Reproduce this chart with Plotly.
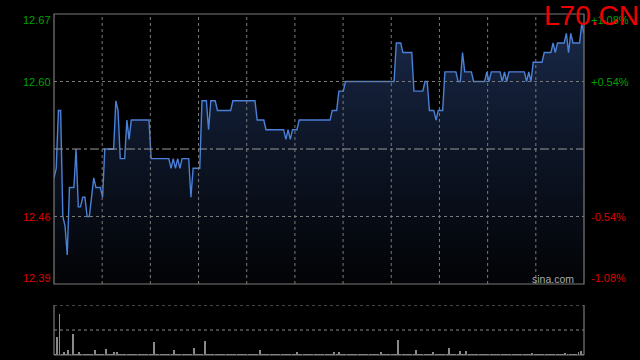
import plotly.graph_objects as go

# ---- data ----
minutes = list(range(241))
prices = [
    12.50, 12.51, 12.57, 12.57, 12.46, 12.45, 12.42, 12.49, 12.49, 12.49,
    12.53, 12.47, 12.47, 12.48, 12.48, 12.46, 12.46, 12.48, 12.50, 12.49,
    12.49, 12.49, 12.48, 12.53, 12.53, 12.53, 12.53, 12.53, 12.58, 12.57,
    12.52, 12.52, 12.52, 12.56, 12.54, 12.56, 12.56, 12.56, 12.56, 12.56,
    12.56, 12.56, 12.56, 12.56, 12.52, 12.52, 12.52, 12.52, 12.52, 12.52,
    12.52, 12.52, 12.52, 12.51, 12.52, 12.51, 12.52, 12.51, 12.52, 12.52,
    12.52, 12.52, 12.48, 12.51, 12.51, 12.51, 12.51, 12.58, 12.58, 12.58,
    12.55, 12.58, 12.58, 12.58, 12.57, 12.57, 12.57, 12.57, 12.57, 12.57,
    12.57, 12.58, 12.58, 12.58, 12.58, 12.58, 12.58, 12.58, 12.58, 12.58,
    12.58, 12.58, 12.56, 12.56, 12.56, 12.56, 12.55, 12.55, 12.55, 12.55,
    12.55, 12.55, 12.55, 12.55, 12.55, 12.54, 12.55, 12.54, 12.55, 12.55,
    12.55, 12.56, 12.56, 12.56, 12.56, 12.56, 12.56, 12.56, 12.56, 12.56,
    12.56, 12.56, 12.56, 12.56, 12.56, 12.56, 12.57, 12.57, 12.57, 12.59,
    12.59, 12.59, 12.60, 12.60, 12.60, 12.60, 12.60, 12.60, 12.60, 12.60,
    12.60, 12.60, 12.60, 12.60, 12.60, 12.60, 12.60, 12.60, 12.60, 12.60,
    12.60, 12.60, 12.60, 12.60, 12.60, 12.64, 12.64, 12.64, 12.63, 12.63,
    12.63, 12.63, 12.63, 12.59, 12.59, 12.59, 12.59, 12.59, 12.60, 12.60,
    12.57, 12.57, 12.57, 12.56, 12.57, 12.57, 12.57, 12.61, 12.61, 12.61,
    12.61, 12.61, 12.61, 12.60, 12.60, 12.63, 12.61, 12.61, 12.61, 12.61,
    12.60, 12.60, 12.60, 12.60, 12.60, 12.60, 12.61, 12.60, 12.61, 12.61,
    12.61, 12.61, 12.61, 12.60, 12.61, 12.60, 12.61, 12.61, 12.61, 12.61,
    12.61, 12.61, 12.61, 12.61, 12.60, 12.61, 12.60, 12.62, 12.62, 12.62,
    12.62, 12.62, 12.63, 12.63, 12.63, 12.63, 12.64, 12.63, 12.64, 12.64,
    12.64, 12.64, 12.65, 12.63, 12.65, 12.64, 12.64, 12.64, 12.64, 12.66,
    12.65,
]
volumes = [
    1, 18, 41, 1, 3, 1, 5, 1, 21, 1, 1, 3, 1, 1, 1, 1, 1, 1, 5, 1,
    1, 1, 1, 6, 1, 1, 1, 3, 3, 1, 1, 1, 1, 1, 1, 1, 1, 1, 1, 1,
    1, 1, 1, 1, 1, 13, 1, 1, 1, 1, 1, 1, 1, 1, 5, 1, 1, 1, 1, 1,
    1, 1, 1, 7, 1, 1, 1, 1, 14, 1, 1, 1, 1, 1, 1, 1, 1, 1, 1, 1,
    1, 1, 1, 1, 1, 1, 1, 1, 1, 1, 1, 1, 1, 5, 1, 1, 1, 1, 1, 1,
    1, 1, 1, 1, 1, 1, 1, 1, 1, 1, 3, 1, 1, 1, 1, 1, 1, 1, 1, 1,
    1, 1, 1, 1, 1, 1, 1, 3, 1, 3, 1, 1, 1, 1, 1, 1, 1, 1, 1, 1,
    1, 1, 1, 1, 1, 1, 1, 1, 3, 1, 1, 1, 1, 1, 1, 1, 15, 1, 1, 1,
    1, 1, 1, 1, 5, 1, 1, 1, 1, 1, 1, 1, 3, 1, 1, 1, 1, 1, 1, 7,
    1, 1, 1, 1, 4, 1, 1, 4, 1, 1, 1, 1, 1, 1, 1, 1, 1, 1, 1, 1,
    1, 1, 1, 1, 1, 1, 1, 1, 1, 1, 1, 1, 1, 1, 1, 1, 1, 2, 1, 1,
    1, 1, 1, 1, 1, 1, 1, 1, 1, 1, 1, 1, 2, 1, 1, 1, 1, 1, 3, 4,
    1,
]
prev_close = 12.53
left_labels = ["12.67", "12.60", "12.46", "12.39"]
right_labels = ["+1.08%", "+0.54%", "-0.54%", "-1.08%"]
label_colors = ["#00a000", "#00a000", "#dd0000", "#dd0000"]
price_grid = [12.60, 12.46]
vol_grid = [25, 50]
title_text = "L70.CN"
watermark = "sina.com"

W, H = 640, 360
X0, X1 = 54, 584
PY0, PY1 = 14, 284
VY0, VY1 = 305, 355
YMIN, YMAX = 12.39, 12.67
XMAX = 240
VMAX = 50

fig = go.Figure()

fig.add_trace(go.Scatter(
    x=minutes, y=prices, mode="lines",
    line=dict(color="#4a80d8", width=1.4),
    fill="tozeroy",
    fillgradient=dict(type="vertical", start=YMIN, stop=YMAX,
                      colorscale=[[0, "#020305"], [0.5, "#0d1526"], [1, "#1a2a4a"]]),
    xaxis="x", yaxis="y", hoverinfo="skip",
))

fig.add_trace(go.Bar(
    x=minutes, y=volumes, width=0.45,
    marker=dict(color="#8a8a8a", line=dict(width=0)),
    xaxis="x2", yaxis="y2", hoverinfo="skip",
))

xd = [X0 / W, X1 / W]
grid_x = [XMAX * k / 11 for k in range(1, 11)]

fig.update_layout(
    width=W, height=H,
    margin=dict(l=0, r=0, t=0, b=0),
    paper_bgcolor="black", plot_bgcolor="black",
    showlegend=False,
    bargap=0,
    xaxis=dict(domain=xd, range=[0, XMAX], showticklabels=False, showgrid=False,
               zeroline=False, showline=False, fixedrange=True),
    yaxis=dict(domain=[1 - PY1 / H, 1 - PY0 / H], range=[YMIN, YMAX],
               showticklabels=False, showgrid=False,
               zeroline=False, showline=False, fixedrange=True),
    xaxis2=dict(domain=xd, range=[-0.5, XMAX + 0.5], showticklabels=False,
                showgrid=False, zeroline=False, showline=False, anchor="y2", fixedrange=True),
    yaxis2=dict(domain=[1 - VY1 / H, 1 - VY0 / H], range=[0, VMAX],
                showticklabels=False, showgrid=False,
                zeroline=False, showline=False, anchor="x2", fixedrange=True),
)

grid_line = dict(color="#7a7a7a", width=1, dash="dot")
shapes = []
for gx in grid_x:
    shapes.append(dict(type="line", xref="x", yref="paper", x0=gx, x1=gx,
                       y0=1 - PY1 / H, y1=1 - PY0 / H, line=grid_line, layer="above"))
for gy in price_grid:
    shapes.append(dict(type="line", xref="paper", yref="y", x0=X0 / W, x1=X1 / W,
                       y0=gy, y1=gy, line=grid_line, layer="above"))
for gv in vol_grid:
    shapes.append(dict(type="line", xref="paper", yref="y2", x0=X0 / W, x1=X1 / W,
                       y0=gv, y1=gv, line=dict(color="#8a8a8a", width=1.2, dash="dot"),
                       layer="above"))
shapes += [
    dict(type="line", xref="x", yref="y", x0=0, x1=XMAX, y0=prev_close, y1=prev_close,
         line=dict(color="#9a9a9a", width=1, dash="dashdot"), layer="above"),
    dict(type="rect", xref="paper", yref="paper",
         x0=X0 / W, x1=X1 / W, y0=1 - PY1 / H, y1=1 - PY0 / H,
         line=dict(color="#7a7a7a", width=1.2), layer="above"),
    dict(type="line", xref="paper", yref="paper", x0=X0 / W, x1=X0 / W,
         y0=1 - VY1 / H, y1=1 - VY0 / H, line=dict(color="#7a7a7a", width=1.2)),
    dict(type="line", xref="paper", yref="paper", x0=X1 / W, x1=X1 / W,
         y0=1 - VY1 / H, y1=1 - VY0 / H, line=dict(color="#7a7a7a", width=1.2)),
    dict(type="line", xref="paper", yref="paper", x0=X0 / W, x1=X1 / W,
         y0=1 - VY1 / H, y1=1 - VY1 / H, line=dict(color="#7a7a7a", width=1)),
]
fig.update_layout(shapes=shapes)

label_px = [20, 82, 216.5, 278]
ann = []
for txt, rtxt, col, py in zip(left_labels, right_labels, label_colors, label_px):
    ann.append(dict(text=txt, xref="paper", yref="paper", x=51.5 / W, y=1 - py / H,
                    xanchor="right", yanchor="middle", showarrow=False,
                    font=dict(family="Liberation Sans, Arial", size=11, color=col)))
    ann.append(dict(text=rtxt, xref="paper", yref="paper", x=589.5 / W, y=1 - py / H,
                    xanchor="left", yanchor="middle", showarrow=False,
                    font=dict(family="Liberation Sans, Arial", size=11, color=col)))
ann.append(dict(text=title_text, xref="paper", yref="paper", x=543 / W, y=1 - 16 / H,
                xanchor="left", yanchor="middle", showarrow=False,
                font=dict(family="Liberation Sans, Arial", size=28, color="#ee0000")))
ann.append(dict(text=watermark, xref="paper", yref="paper", x=552.5 / W, y=1 - 279.3 / H,
                xanchor="center", yanchor="middle", showarrow=False,
                font=dict(family="Liberation Sans, Arial", size=10.5, color="#aaaaaa")))
for a in ann:
    a["borderpad"] = 0
fig.update_layout(annotations=ann)

fig.write_html("out.html")
